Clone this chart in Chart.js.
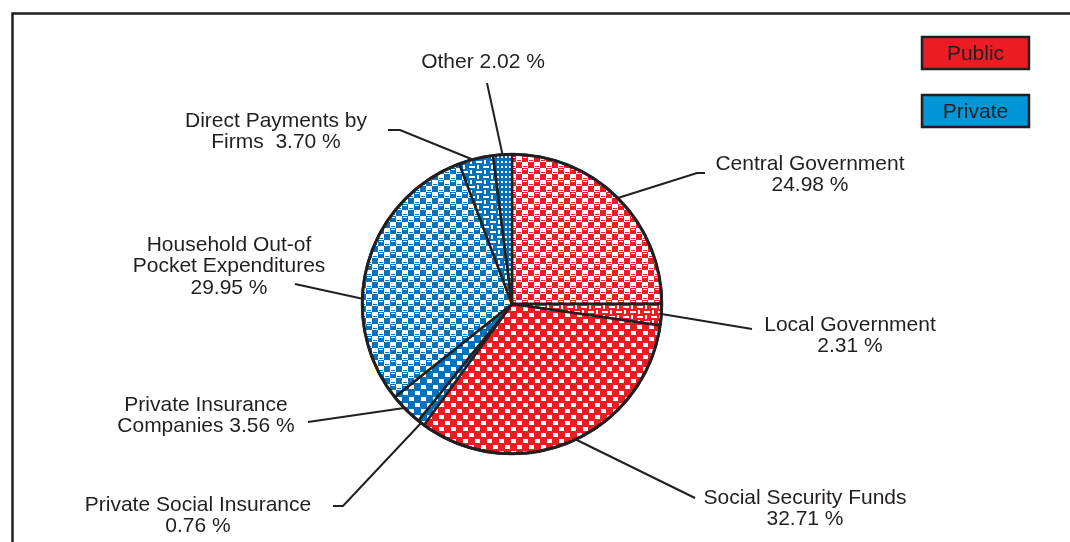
<!DOCTYPE html>
<html>
<head>
<meta charset="utf-8">
<script src="https://cdn.jsdelivr.net/npm/chart.js@4.4.1/dist/chart.umd.min.js"></script>
<style>
  html, body { margin: 0; padding: 0; background: #ffffff; }
  #wrap { width: 1070px; height: 542px; position: relative; }
</style>
</head>
<body>
<div id="wrap"><canvas id="healthChart" width="1070" height="542"></canvas></div>
<script>
// Financing sources, clockwise from twelve o'clock
const sectors = [
    'Central Government', 'Local Government', 'Social Security Funds',
    'Private Social Insurance', 'Private Insurance Companies',
    'Household Out-of Pocket Expenditures', 'Direct Payments by Firms', 'Other'
];
const shares = [24.98, 2.31, 32.71, 0.76, 3.56, 29.95, 3.70, 2.02];
const sectorGroup = ['Public', 'Public', 'Public', 'Private', 'Private', 'Private', 'Private', 'Private'];
const groups = ['Public', 'Private'];

// how each label breaks into lines; {v} is replaced by the share
const labelLines = [
    ['Central Government', '{v}'],
    ['Local Government', '{v}'],
    ['Social Security Funds', '{v}'],
    ['Private Social Insurance', '{v}'],
    ['Private Insurance', 'Companies {v}'],
    ['Household Out-of', 'Pocket Expenditures', '{v}'],
    ['Direct Payments by', 'Firms  {v}'],
    ['Other {v}']
];

const INK = '#231F20';
const RED = '#ED1C24';
const BLUE = '#0072BC';
const groupColor = { Public: '#ED1C24', Private: '#0096D8' };

// --- fill patterns --------------------------------------------------------
function makePattern(w, h, bg, fg, rects) {
    const c = document.createElement('canvas');
    c.width = w;
    c.height = h;
    const g = c.getContext('2d');
    g.fillStyle = bg;
    g.fillRect(0, 0, w, h);
    rects.forEach(r => {
        g.fillStyle = r[4] === 'bg' ? bg : fg;
        g.fillRect(r[0], r[1], r[2], r[3]);
    });
    return g.createPattern(c, 'repeat');
}

const tiles = {
    checker: [12, 12, [[0, 0, 6, 6], [6, 6, 6, 6], [1, 4, 4, 1, 'bg'], [7, 10, 4, 1, 'bg'], [7, 1, 4, 1]]],
    bricks: [14, 10, [[0, 1, 6, 2], [8, 0, 2, 4], [7, 6, 6, 2], [1, 5, 2, 4]]],
    blocks: [12, 12, [[1, 1, 5, 4], [7, 7, 5, 4]]],
    grid: [4, 5, [[1, 1, 2, 2]]]
};
const sectorTile = ['checker', 'bricks', 'blocks', 'blocks', 'blocks', 'checker', 'bricks', 'grid'];

function patternFor(i) {
    const t = tiles[sectorTile[i]];
    const base = sectorGroup[i] === 'Public' ? RED : BLUE;
    return makePattern(t[0], t[1], base, '#ffffff', t[2]);
}

// --- leader lines and label placement -----------------------------------
// where on the slice edge the leader starts (0..1 across the slice)
const leaderAt = [0.5, 0.47, 0.48, 0.5, 0.57, 0.375, 0.4, 0.5];
// leader bends, from the label end inward
const leaderPath = [
    [[705, 173], [697, 173]],
    [[752, 329]],
    [[695, 498]],
    [[333, 506], [343, 506]],
    [[308, 422]],
    [[295, 284]],
    [[388, 130], [400, 130]],
    [[487, 83]]
];
// label centre x and first-line middle y
const labelPos = [
    [810, 164], [850, 325], [805, 498], [198, 505],
    [206, 405], [229, 245], [276, 121], [483, 62]
];
const LINE_H = 21.5;

const labelPlugin = {
    id: 'sectorLabels',
    afterDatasetsDraw(chart) {
        const ctx = chart.ctx;
        const arcs = chart.getDatasetMeta(0).data;
        ctx.save();

        // outer rim
        const a0 = arcs[0];
        ctx.beginPath();
        ctx.arc(a0.x, a0.y, a0.outerRadius, 0, Math.PI * 2);
        ctx.lineWidth = 3;
        ctx.strokeStyle = INK;
        ctx.stroke();

        ctx.lineWidth = 2;
        ctx.strokeStyle = INK;
        ctx.lineCap = 'butt';
        arcs.forEach((arc, i) => {
            const ang = arc.startAngle + (arc.endAngle - arc.startAngle) * leaderAt[i];
            const px = arc.x + Math.cos(ang) * arc.outerRadius;
            const py = arc.y + Math.sin(ang) * arc.outerRadius;
            const path = leaderPath[i];
            ctx.beginPath();
            ctx.moveTo(path[0][0], path[0][1]);
            for (let k = 1; k < path.length; k++) ctx.lineTo(path[k][0], path[k][1]);
            ctx.lineTo(px, py);
            ctx.stroke();
        });

        ctx.fillStyle = INK;
        ctx.font = '21px "Liberation Sans", Arial, sans-serif';
        ctx.textAlign = 'center';
        ctx.textBaseline = 'middle';
        labelLines.forEach((lines, i) => {
            const v = shares[i].toFixed(2) + ' %';
            lines.forEach((ln, k) => {
                ctx.fillText(ln.replace('{v}', v), labelPos[i][0], labelPos[i][1] + k * LINE_H);
            });
        });

        // group key, top right
        groups.forEach((g, k) => {
            const x = 922, y = 37 + k * 58, w = 107, h = 32;
            ctx.fillStyle = groupColor[g];
            ctx.fillRect(x, y, w, h);
            ctx.lineWidth = 2.5;
            ctx.strokeRect(x, y, w, h);
            ctx.fillStyle = INK;
            ctx.fillText(g, x + w / 2, y + h / 2 + 1);
        });

        // frame
        ctx.lineWidth = 2.5;
        ctx.beginPath();
        ctx.moveTo(12.5, 542);
        ctx.lineTo(12.5, 13.5);
        ctx.lineTo(1070, 13.5);
        ctx.stroke();

        ctx.restore();
    }
};

const chart = new Chart(document.getElementById('healthChart'), {
    type: 'pie',
    data: {
        labels: sectors,
        datasets: [{
            data: shares,
            backgroundColor: shares.map((_, i) => patternFor(i)),
            borderColor: INK,
            borderWidth: 2.5
        }]
    },
    options: {
        responsive: false,
        animation: false,
        layout: { padding: { left: 361, right: 407, top: 153, bottom: 87 } },
        plugins: {
            legend: { display: false },
            tooltip: { enabled: false }
        }
    },
    plugins: [labelPlugin]
});
</script>
</body>
</html>
